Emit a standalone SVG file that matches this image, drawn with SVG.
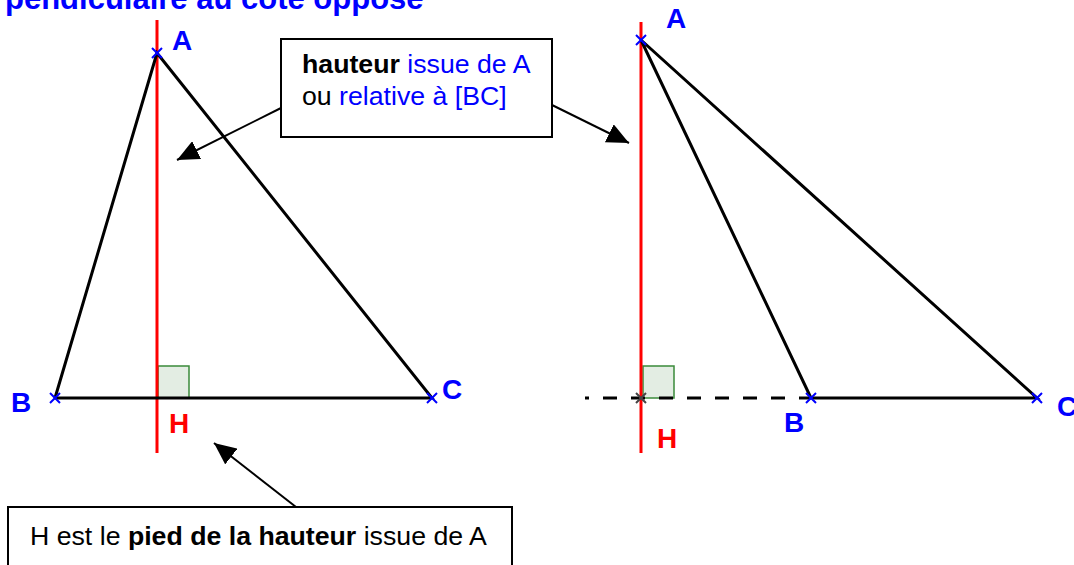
<svg xmlns="http://www.w3.org/2000/svg" width="1074" height="565" viewBox="0 0 1074 565">
<defs>
<marker id="ah" viewBox="0 0 22 20" refX="22" refY="10" markerWidth="22" markerHeight="20" markerUnits="userSpaceOnUse" orient="auto">
<path d="M0,0 L22,10 L0,20 Z" fill="#000"/>
</marker>
<style>
.tri{stroke:#000;stroke-width:3;fill:none;stroke-linecap:round}
.alt{stroke:#ff0000;stroke-width:3}
.x{stroke:#0000ff;stroke-width:2}
.xg{stroke:#444;stroke-width:2}
.sq{fill:#e3ede3;stroke:#3a8a3a;stroke-width:1.5}
.lbl{font-family:"Liberation Sans",Arial,sans-serif;font-weight:bold;font-size:28px;fill:#0000ff}
.lblh{font-family:"Liberation Sans",Arial,sans-serif;font-weight:bold;font-size:28px;fill:#ff0000}
.box{fill:#fff;stroke:#000;stroke-width:2}
.t{font-family:"Liberation Sans",Arial,sans-serif;font-size:26.7px;fill:#000}
.b{font-weight:bold}
.blue{fill:#0000ff}
.arr{stroke:#000;stroke-width:2;fill:none}
</style>
</defs>
<rect width="1074" height="565" fill="#fff"/>
<text x="5" y="9" font-family="Liberation Sans, Arial, sans-serif" font-weight="bold" font-size="31" fill="#0000ff">pendiculaire au côté opposé</text>

<g id="triangle1">
<rect class="sq" x="158" y="366" width="31" height="32"/>
<line class="alt" x1="157" y1="20" x2="157" y2="453"/>
<polyline class="tri" points="55,398 157,53 432,398 55,398"/>
<path class="x" d="M152,48 L162,58 M162,48 L152,58"/>
<path class="x" d="M50,393 L60,403 M60,393 L50,403"/>
<path class="x" d="M427,393 L437,403 M437,393 L427,403"/>
<text class="lbl" x="172" y="50">A</text>
<text class="lbl" x="11" y="412">B</text>
<text class="lbl" x="442" y="399">C</text>
<text class="lblh" x="169" y="433">H</text>
</g>

<g id="triangle2">
<rect class="sq" x="643" y="366" width="31" height="32"/>
<line x1="585" y1="398" x2="811" y2="398" stroke="#000" stroke-width="3" stroke-dasharray="14,14" stroke-dashoffset="10"/>
<line class="alt" x1="641" y1="22" x2="641" y2="453"/>
<polyline class="tri" points="811,398 641,40 1037,398 811,398"/>
<path class="xg" d="M636,393 L646,403 M646,393 L636,403"/>
<path class="x" d="M636,35 L646,45 M646,35 L636,45"/>
<path class="x" d="M806,393 L816,403 M816,393 L806,403"/>
<path class="x" d="M1032,393 L1042,403 M1042,393 L1032,403"/>
<text class="lbl" x="666" y="28">A</text>
<text class="lbl" x="784" y="432">B</text>
<text class="lbl" x="1057" y="416">C</text>
<text class="lblh" x="657" y="448">H</text>
</g>

<g id="connectors">
<line class="arr" x1="281" y1="108" x2="177" y2="160" marker-end="url(#ah)"/>
<line class="arr" x1="552" y1="105" x2="629" y2="143" marker-end="url(#ah)"/>
<line class="arr" x1="296" y1="507" x2="214" y2="443" marker-end="url(#ah)"/>
</g>

<g id="box-hauteur">
<rect class="box" x="281" y="39" width="271" height="98"/>
<text class="t" x="302" y="73"><tspan class="b">hauteur</tspan> <tspan class="blue">issue de A</tspan></text>
<text class="t" x="302" y="105">ou <tspan class="blue">relative à [BC]</tspan></text>
</g>

<g id="box-pied">
<rect class="box" x="8" y="507" width="504" height="70"/>
<text class="t" x="30" y="545">H est le <tspan class="b">pied de la hauteur</tspan> issue de A</text>
</g>
</svg>
